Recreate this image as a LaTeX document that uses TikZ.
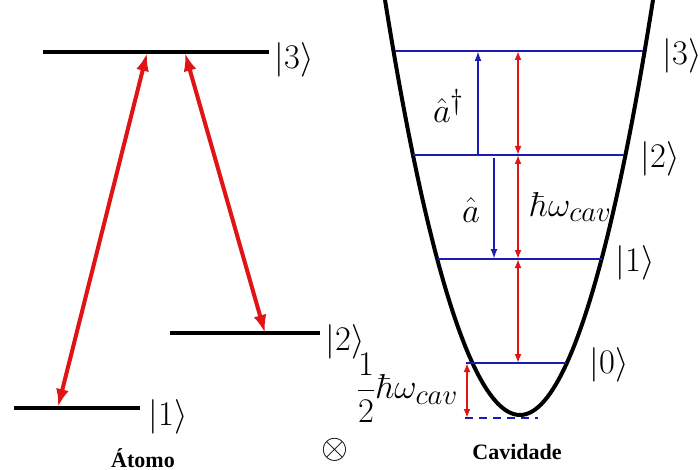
\documentclass[tikz,border=0pt]{standalone}
\usepackage{amsmath}
\usepackage[no-math]{fontspec}
\setmainfont{Liberation Serif}
\usetikzlibrary{arrows.meta, positioning, calc}
\definecolor{levelblue}{HTML}{1C1CB4}
\definecolor{transred}{HTML}{E01414}

\begin{document}
\begin{tikzpicture}[
    x=0.5pt, y=-0.5pt,
    every node/.style={font=\fontsize{16}{18}\selectfont, inner sep=1pt},
    big/.style={font=\fontsize{19}{21}\selectfont},
    level/.style={line width=2pt},
    cavlevel/.style={draw=levelblue, line width=1pt},
    trans/.style={{Latex[length=9pt,width=6.5pt]}-{Latex[length=9pt,width=6.5pt]},
                  draw=transred, line width=2pt},
    cavtrans/.style={{Latex[length=4.5pt,width=3.5pt]}-{Latex[length=4.5pt,width=3.5pt]},
                     draw=transred, line width=1.1pt},
    ladder/.style={-{Latex[length=5pt,width=3.5pt]}, draw=levelblue, line width=1pt},
    caption/.style={font=\fontsize{11}{13}\selectfont\bfseries}
]
    \useasboundingbox (0,0) rectangle (700,470);

    % atomo: tres niveis
    \coordinate (a3l) at (43,52);  \coordinate (a3r) at (269,52);
    \coordinate (a2l) at (170,333); \coordinate (a2r) at (320,333);
    \coordinate (a1l) at (14,408); \coordinate (a1r) at (140,408);
    \draw[level] (a3l) -- (a3r);
    \draw[level] (a2l) -- (a2r);
    \draw[level] (a1l) -- (a1r);
    \node (ka3) at (294,60) {$\left|3\right\rangle$};
    \node (ka2) at (345,342) {$\left|2\right\rangle$};
    \node (ka1) at (168,417) {$\left|1\right\rangle$};

    \coordinate (t31) at (147,53); \coordinate (t1) at (58,407);
    \coordinate (t32) at (185,53); \coordinate (t2) at (265,333);
    \draw[trans] (t31) -- (t1);
    \draw[trans] (t32) -- (t2);

    \node[caption] (atomo) at (143,458) {Átomo};
    \node (cross) at (335,450) {$\otimes$};

    % cavidade: oscilador harmonico
    \coordinate (top l) at (385,0);
    \coordinate (bend) at (520,415);
    \coordinate (top r) at (653,0);
    \draw[line width=2pt] (top l) parabola bend (bend) (top r);

    \coordinate (c3l) at (395,51);  \coordinate (c3r) at (643,51);
    \coordinate (c2l) at (413,155); \coordinate (c2r) at (624,155);
    \coordinate (c1l) at (438,259); \coordinate (c1r) at (602,259);
    \coordinate (c0l) at (466,363); \coordinate (c0r) at (566,363);
    \draw[cavlevel] (c3l) -- (c3r);
    \draw[cavlevel] (c2l) -- (c2r);
    \draw[cavlevel] (c1l) -- (c1r);
    \draw[cavlevel] (c0l) -- (c0r);
    \coordinate (zl) at (465,418); \coordinate (zr) at (538,418);
    \draw[cavlevel, dashed, dash pattern=on 4pt off 3pt] (zl) -- (zr);

    \node (kc3) at (682,56) {$\left|3\right\rangle$};
    \node (kc2) at (660,159) {$\left|2\right\rangle$};
    \node (kc1) at (635,263) {$\left|1\right\rangle$};
    \node (kc0) at (609,365) {$\left|0\right\rangle$};

    % escada de energia
    \coordinate (m3) at (518,51);
    \coordinate (m2) at (518,155);
    \coordinate (m1) at (518,259);
    \coordinate (m0) at (518,363);
    \draw[cavtrans] (m3) -- (m2);
    \draw[cavtrans] (m2) -- (m1);
    \draw[cavtrans] (m1) -- (m0);

    \coordinate (up) at (478,0);
    \coordinate (down) at (494,0);
    \coordinate (half) at (467,0);
    \draw[ladder] (up |- m2) -- (up |- m3);
    \draw[ladder, shorten <=1.5pt] (down |- m2) -- (down |- m1);
    \draw[cavtrans] (half |- m0) -- (half |- zl);

    \node[big] (adag) at (449,106) {$\hat{a}^{\dagger}$};
    \node[big] (ann) at (471,210) {$\hat{a}$};
    \node[big] (hw) at (571,207) {$\hbar\omega_{cav}$};
    \node[big] (hw0) at (407,388) {$\dfrac{1}{2}\hbar\omega_{cav}$};

    \node[caption] (cav) at (517,452) {Cavidade};
\end{tikzpicture}
\end{document}
